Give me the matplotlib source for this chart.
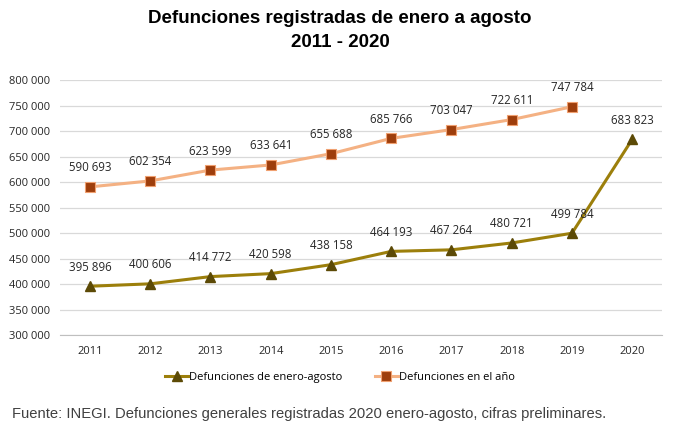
import matplotlib as mpl
import matplotlib.pyplot as plt

mpl.rcParams['font.family'] = ['Open Sans', 'DejaVu Sans']

years = ["2011", "2012", "2013", "2014", "2015", "2016", "2017", "2018", "2019", "2020"]
ene_ago = [395896, 400606, 414772, 420598, 438158, 464193, 467264, 480721, 499784, 683823]
anio = [590693, 602354, 623599, 633641, 655688, 685766, 703047, 722611, 747784]
yticks = [300000, 350000, 400000, 450000, 500000, 550000, 600000, 650000, 700000, 750000, 800000]


def fmt(v):
    return f"{v:,}".replace(",", " ")


fig = plt.figure(figsize=(6.8, 4.33), dpi=100)
ax = fig.add_axes([0.088, 0.226, 0.886, 0.589])

x = list(range(len(years)))

# series
ax.plot(x, ene_ago, color="#9C7F0B", linewidth=2.2, marker="^", markersize=7,
        markerfacecolor="#5C4A06", markeredgecolor="#5C4A06",
        label="Defunciones de enero-agosto", zorder=3)
ax.plot(x[:len(anio)], anio, color="#F4B183", linewidth=2.2, marker="s", markersize=7.5,
        markerfacecolor="#9E3E0C", markeredgecolor="#F0A070", markeredgewidth=0.8,
        label="Defunciones en el año", zorder=3)

# data labels
for xi, v in zip(x, ene_ago):
    ax.annotate(fmt(v), (xi, v), xytext=(0, 9), textcoords="offset points",
                ha="center", va="bottom", fontsize=8.3, color="#262626")
for xi, v in zip(x, anio):
    ax.annotate(fmt(v), (xi, v), xytext=(0, 9), textcoords="offset points",
                ha="center", va="bottom", fontsize=8.3, color="#262626")

ax.set_xlim(-0.5, len(years) - 0.5)
ax.set_ylim(300000, 800000)
ax.set_yticks(yticks)
ax.set_yticklabels([fmt(t) for t in yticks], fontsize=8, color="#262626")
ax.set_xticks(x)
ax.set_xticklabels(years, fontsize=8, color="#262626")
ax.tick_params(axis="both", length=0, pad=8)
ax.tick_params(axis="y", pad=7)

ax.grid(axis="y", color="#D9D9D9", linewidth=0.9)
ax.set_axisbelow(True)
for s in ["top", "right", "left"]:
    ax.spines[s].set_visible(False)
ax.spines["bottom"].set_color("#BFBFBF")

fig.text(0.5, 0.93, "Defunciones registradas de enero a agosto\n2011 - 2020",
         ha="center", va="center", fontsize=13.5, fontweight="bold",
         linespacing=1.5, family=["Liberation Sans", "DejaVu Sans"])

fig.legend(loc="center", bbox_to_anchor=(0.5, 0.128), ncol=2, frameon=False,
           fontsize=8, handlelength=2.0, columnspacing=3.0, handletextpad=0.1)

fig.text(0.018, 0.045,
         "Fuente: INEGI. Defunciones generales registradas 2020 enero-agosto, cifras preliminares.",
         ha="left", va="center", fontsize=10.6, color="#404040",
         family=["Liberation Sans", "DejaVu Sans"])

fig.savefig("out.png", dpi=100)
